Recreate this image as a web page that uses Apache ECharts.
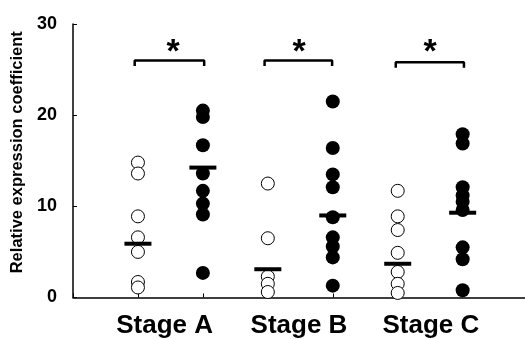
<!DOCTYPE html>
<html><head><meta charset="utf-8">
<script src="https://cdn.jsdelivr.net/npm/echarts@6/dist/echarts.min.js"></script>
<style>html,body{margin:0;padding:0;background:#fff}#c{width:525px;height:339px}</style>
</head><body><div id="c"></div>
<script>
const stages = ['Stage A', 'Stage B', 'Stage C'];
const openX = [1, 3, 5];
const filledX = [2, 4, 6];
const openA = [14.8, 13.6, 8.9, 6.6, 5.0, 1.7, 1.1];
const filledA = [20.5, 19.8, 16.7, 13.6, 11.7, 10.3, 9.1, 2.7];
const openB = [12.5, 6.5, 2.3, 1.5, 0.6];
const filledB = [21.5, 16.4, 13.5, 12.1, 8.8, 6.6, 5.6, 4.4, 1.3];
const openC = [11.7, 8.9, 7.4, 4.9, 2.8, 1.5, 0.5];
const filledC = [17.9, 16.9, 12.1, 11.2, 10.5, 9.6, 5.5, 4.2, 0.8];
const openMeans = [5.9, 3.1, 3.7];
const filledMeans = [14.25, 9.0, 9.3];
const bracketLeft = [0.95, 2.95, 4.97];
const bracketRight = [2.02, 3.99, 6.02];
const bracketY = [26.0, 26.0, 25.8];
const bracketDrop = 0.6;
const starX = [1.54, 3.48, 5.5];
const starY = 26.9;
const labelX = [1.41, 3.48, 5.51];
const labelY = -3.1;
const yTicks = [0, 10, 20, 30];

const openAll = [openA, openB, openC];
const filledAll = [filledA, filledB, filledC];
const openData = [], filledData = [];
openAll.forEach((arr, i) => arr.forEach(v => openData.push([openX[i], v])));
filledAll.forEach((arr, i) => arr.forEach(v => filledData.push([filledX[i], v])));
const meanData = [];
stages.forEach((s, i) => { meanData.push([openX[i], openMeans[i]]); meanData.push([filledX[i], filledMeans[i]]); });

const series = [
  { type: 'scatter', data: openData, symbol: 'circle', symbolSize: 13,
    itemStyle: { color: '#fff', borderColor: '#000', borderWidth: 1, opacity: 1 }, z: 3 },
  { type: 'scatter', data: filledData, symbol: 'circle', symbolSize: 14,
    itemStyle: { color: '#000', opacity: 1 }, z: 3 },
  { type: 'scatter', data: meanData, symbol: 'rect', symbolSize: [27, 4],
    itemStyle: { color: '#000', opacity: 1 }, z: 5 }
];
stages.forEach((s, i) => {
  series.push({ type: 'line', silent: true, symbol: 'none', clip: false,
    lineStyle: { color: '#000', width: 2.5 },
    data: [[bracketLeft[i], bracketY[i] - bracketDrop], [bracketLeft[i], bracketY[i]],
           [bracketRight[i], bracketY[i]], [bracketRight[i], bracketY[i] - bracketDrop]], z: 4 });
});
series.push({ type: 'scatter', clip: false, symbolSize: 0, silent: true,
  itemStyle: { opacity: 1, color: '#000' },
  data: starX.map(x => [x, starY]),
  label: { show: true, position: 'inside', formatter: '*', color: '#000', opacity: 1,
    fontFamily: 'Liberation Sans', fontSize: 34, fontWeight: 'bold' } });
series.push({ type: 'scatter', clip: false, symbolSize: 0, silent: true,
  itemStyle: { opacity: 1, color: '#000' },
  data: labelX.map((x, i) => ({ value: [x, labelY], name: stages[i] })),
  label: { show: true, position: 'inside', formatter: p => p.name, color: '#000', opacity: 1,
    fontFamily: 'Liberation Sans', fontSize: 26, fontWeight: 'bold' } });

const chart = echarts.init(document.getElementById('c'), null, { renderer: 'canvas' });
chart.setOption({
  animation: false,
  backgroundColor: '#fff',
  grid: { left: 73, right: 0, top: 24, bottom: 41.5, containLabel: false },
  xAxis: { type: 'value', min: 0, max: 6.96, interval: 1,
    axisLine: { lineStyle: { color: '#000', width: 1.5 } },
    axisTick: { inside: true, length: 4, lineStyle: { color: '#000', width: 1 } },
    axisLabel: { show: false }, splitLine: { show: false } },
  yAxis: { type: 'value', min: yTicks[0], max: yTicks[yTicks.length - 1], interval: 10,
    name: 'Relative expression coefficient', nameLocation: 'middle', nameGap: 42, nameRotate: 90,
    nameTextStyle: { color: '#000', fontFamily: 'Liberation Sans', fontWeight: 'bold', fontSize: 16.5, padding: [0, 0, 0, 17] },
    axisLine: { show: true, lineStyle: { color: '#000', width: 1.5 } },
    axisTick: { show: true, inside: true, length: 4, lineStyle: { color: '#000', width: 1 } },
    axisLabel: { color: '#000', fontFamily: 'Liberation Sans', fontWeight: 'bold', fontSize: 18, margin: 16 },
    splitLine: { show: false } },
  series: series
});
</script></body></html>
